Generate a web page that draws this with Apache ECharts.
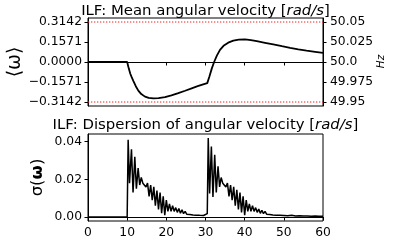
<!DOCTYPE html>
<html><head><meta charset="utf-8">
<script src="https://cdn.jsdelivr.net/npm/echarts@6/dist/echarts.min.js"></script>
<style>html,body{margin:0;padding:0;background:#fff}#c{width:395px;height:242px}</style>
</head><body><div id="c"></div>
<script>
// ---- data ----
const meanT = [0, 10, 10.4, 10.8, 11.15, 11.6, 12.2, 12.85, 13.6, 14.55, 15.5, 16.7, 18, 19.66, 21.3, 23.06, 24.8, 26.47, 28.0, 29.4, 30.45,
  31.0, 31.6, 32.2, 32.9, 33.7, 34.6, 35.8, 37.1, 38.5, 40.1, 41.6, 43.1, 45.2, 47.3, 49.5, 51.6, 53.7, 55.8, 58, 60];
const meanW = [0, 0, -0.05, -0.092, -0.119, -0.15, -0.19, -0.2245, -0.252, -0.272, -0.282, -0.2856, -0.283, -0.276, -0.262, -0.245, -0.226, -0.207, -0.19, -0.176, -0.166,
  -0.114, -0.052, 0.0, 0.05, 0.095, 0.127, 0.152, 0.168, 0.176, 0.178, 0.172, 0.164, 0.151, 0.138, 0.124, 0.111, 0.100, 0.090, 0.080, 0.071];
const limits = [0.3142, -0.3142];
const tRange = [0, 60];

const dispT = [0, 10.0, 10.25, 10.6, 11.1, 11.5, 11.95, 12.35, 12.8, 13.2, 13.6, 14.0, 14.4, 14.8, 15.2, 15.6, 16.0, 16.4, 16.8, 17.2, 17.6, 18.0, 18.4, 18.8, 19.2, 19.6, 20.0, 20.4, 20.8, 21.2, 21.6, 22.0, 22.4, 22.8, 23.2, 23.6, 24.0, 24.4, 24.8, 25.2, 25.6, 26.0, 26.4, 26.8, 27.2, 27.6, 28.0, 28.5, 29.0, 29.5, 30.0, 30.45,
  30.7, 31.05, 31.5, 31.9, 32.35, 32.75, 33.2, 33.6, 34.0, 34.4, 34.8, 35.2, 35.6, 36.0, 36.4, 36.8, 37.2, 37.6, 38.0, 38.4, 38.8, 39.2, 39.6, 40.0, 40.4, 40.8, 41.2, 41.6, 42.0, 42.4, 42.8, 43.2, 43.6, 44.0, 44.4, 44.8, 45.2, 45.6, 46.0, 46.4, 46.8, 47.2, 47.6, 48.0, 48.5, 49.0, 49.5, 50.0, 50.5, 51, 52, 53, 54, 55, 56, 57, 58, 59, 60];
const dispV = [0, 0, 0.041, 0.018, 0.036, 0.013, 0.032, 0.015, 0.026, 0.017, 0.021, 0.018, 0.019, 0.016, 0.018, 0.011, 0.017, 0.009, 0.016, 0.006, 0.014, 0.004, 0.013, 0.002, 0.011, 0.001, 0.009, 0.003, 0.007, 0.003, 0.006, 0.003, 0.005, 0.0025, 0.0045, 0.002, 0.0038, 0.0018, 0.003, 0.0015, 0.0025, 0.0013, 0.002, 0.0011, 0.0017, 0.001, 0.0014, 0.0009, 0.0012, 0.0008, 0.001, 0.0018,
  0.042, 0.0125, 0.0375, 0.0106, 0.033, 0.013, 0.027, 0.016, 0.021, 0.018, 0.019, 0.016, 0.018, 0.011, 0.017, 0.009, 0.016, 0.006, 0.0145, 0.004, 0.013, 0.0025, 0.011, 0.001, 0.009, 0.003, 0.007, 0.003, 0.006, 0.003, 0.005, 0.0025, 0.0042, 0.002, 0.0036, 0.0018, 0.003, 0.0015, 0.0025, 0.0013, 0.002, 0.0011, 0.0017, 0.001, 0.0014, 0.0009, 0.0012, 0.0008, 0.0011, 0.0007, 0.0009, 0.0006, 0.0007, 0.0005, 0.0006, 0.0004, 0.0005, 0.0004, 0.0004];

const wTickVals = [-0.3142, -0.1571, 0, 0.1571, 0.3142];
const wTickLabels = ['\u22120.3142', '\u22120.1571', '0.0000', '0.1571', '0.3142'];
const hzTickVals = [49.95, 49.975, 50.0, 50.025, 50.05];
const hzTickLabels = ['49.95', '49.975', '50.0', '50.025', '50.05'];
const sTickVals = [0, 0.02, 0.04];
const sTickLabels = ['0.00', '0.02', '0.04'];

// ---- chart ----
const FONT = 'DejaVu Sans';
const TICK = 12.3;
const TITLE = 14.9;
function lab(vals, labels) {
  return function (v) {
    let best = 0;
    for (let i = 1; i < vals.length; i++) if (Math.abs(vals[i] - v) < Math.abs(vals[best] - v)) best = i;
    return labels[best];
  };
}
const axisCommon = {
  axisLine: { show: true, lineStyle: { color: '#000', width: 1 } },
  axisTick: { show: true, inside: false, length: 3.5, lineStyle: { color: '#000', width: 1 } },
  splitLine: { show: false },
};
function titleText(x, y, main) {
  return { type: 'text', x: x, y: y, z: 10,
    style: { text: main + '[{i|rad/s}]', fontFamily: FONT, fontSize: TITLE, fill: '#000', align: 'center', verticalAlign: 'middle',
      rich: { i: { fontFamily: FONT, fontSize: TITLE, fontStyle: 'italic', fill: '#000' } } } };
}
const chart = echarts.init(document.getElementById('c'), null, { renderer: 'canvas' });
chart.setOption({
  animation: false,
  backgroundColor: '#fff',
  grid: [
    { left: 88, right: 72, top: 18, height: 88, show: true, borderColor: '#000', borderWidth: 1, backgroundColor: 'transparent' },
    { left: 88, right: 72, top: 134, height: 87, show: true, borderColor: '#000', borderWidth: 1, backgroundColor: 'transparent' }
  ],
  xAxis: [
    Object.assign({ type: 'value', gridIndex: 0, min: 0, max: 60, interval: 10, axisLabel: { show: false } }, axisCommon),
    Object.assign({ type: 'value', gridIndex: 1, min: 0, max: 60, interval: 10,
      axisLabel: { show: true, margin: 6, fontFamily: FONT, fontSize: TICK, color: '#000' } }, axisCommon)
  ],
  yAxis: [
    Object.assign({}, axisCommon, { type: 'value', gridIndex: 0, min: -0.3456, max: 0.3456, position: 'left',
      axisTick: { show: true, length: 3.5, customValues: wTickVals, lineStyle: { color: '#000' } },
      axisLabel: { show: true, margin: 6, customValues: wTickVals, formatter: lab(wTickVals, wTickLabels), fontFamily: FONT, fontSize: TICK, color: '#000' } }),
    Object.assign({}, axisCommon, { type: 'value', gridIndex: 0, min: 50 - 0.3456 / (2 * Math.PI), max: 50 + 0.3456 / (2 * Math.PI), position: 'right',
      axisTick: { show: true, length: 3.5, customValues: hzTickVals, lineStyle: { color: '#000' } },
      axisLabel: { show: true, margin: 7, customValues: hzTickVals, formatter: lab(hzTickVals, hzTickLabels), fontFamily: FONT, fontSize: TICK, color: '#000' } }),
    Object.assign({}, axisCommon, { type: 'value', gridIndex: 1, min: -0.0021, max: 0.0441, position: 'left',
      axisTick: { show: true, length: 3.5, customValues: sTickVals, lineStyle: { color: '#000' } },
      axisLabel: { show: true, margin: 6, customValues: sTickVals, formatter: lab(sTickVals, sTickLabels), fontFamily: FONT, fontSize: TICK, color: '#000' } })
  ],
  series: limits.map(v => ({
      type: 'line', xAxisIndex: 0, yAxisIndex: 0, data: tRange.map(t => [t, v]), showSymbol: false, symbol: 'none', silent: true, z: 1,
      lineStyle: { color: '#ff1a1a', type: [1.3, 1.7], width: 1.1 } })).concat([
    { type: 'line', xAxisIndex: 0, yAxisIndex: 0, data: meanT.map((t, i) => [t, meanW[i]]), showSymbol: false, symbol: 'none',
      lineStyle: { color: '#000', width: 1.8 }, silent: true, z: 3 },
    { type: 'line', xAxisIndex: 1, yAxisIndex: 2, data: dispT.map((t, i) => [t, dispV[i]]), showSymbol: false, symbol: 'none',
      lineStyle: { color: '#000', width: 1.5 }, silent: true }
  ]),
  graphic: [
    titleText(205.5, 10.8, 'ILF: Mean angular velocity '),
    titleText(205.5, 125.2, 'ILF: Dispersion of angular velocity '),
    { type: 'text', x: 15, y: 62, rotation: Math.PI / 2,
      style: { text: '\u27E8\u03C9\u27E9', fontFamily: FONT, fontSize: 19, fill: '#000', align: 'center', verticalAlign: 'middle' } },
    { type: 'text', x: 37.5, y: 177.5, rotation: Math.PI / 2,
      style: { text: '{a|\u03C3(}{b|\u03C9}{a|)}', fill: '#000', align: 'center', verticalAlign: 'middle',
        rich: { a: { fontFamily: FONT, fontSize: 16.5, fill: '#000' }, b: { fontFamily: FONT, fontSize: 16.5, fontWeight: 'bold', fill: '#000' } } } },
    { type: 'text', x: 381.5, y: 61.5, rotation: Math.PI / 2,
      style: { text: 'Hz', fontFamily: FONT, fontSize: 10.5, fontStyle: 'italic', fill: '#000', align: 'center', verticalAlign: 'middle' } }
  ]
});
</script></body></html>
